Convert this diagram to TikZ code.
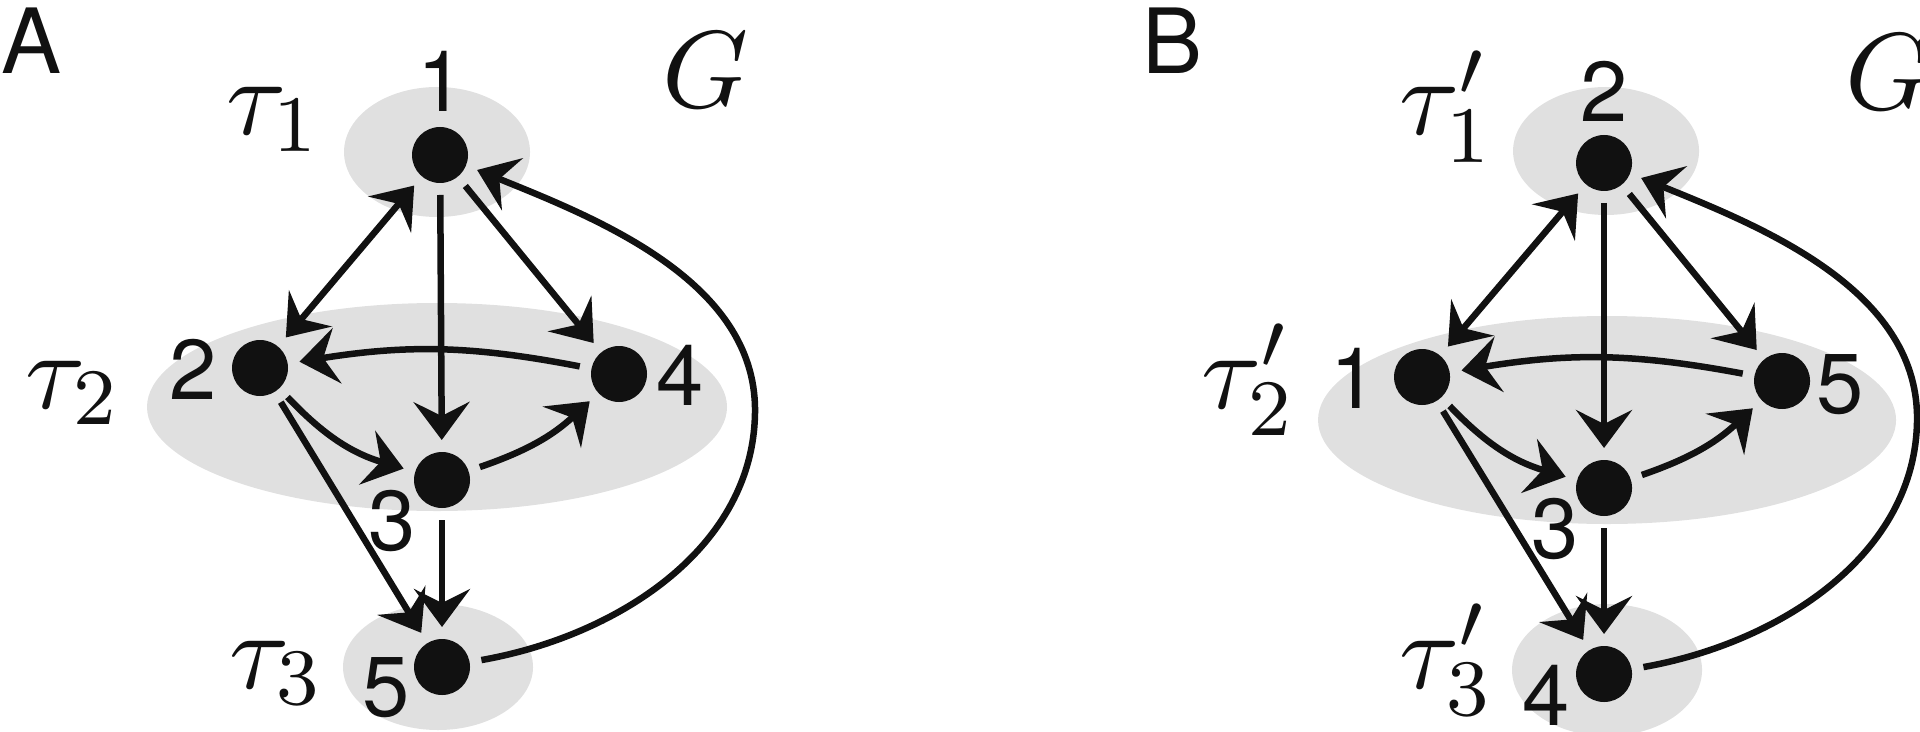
\documentclass[tikz,border=0pt]{standalone}
\usepackage{fontspec}
\newfontfamily\hvfont{TeX Gyre Heros}
\usetikzlibrary{arrows.meta}
\definecolor{grpgray}{RGB}{224,224,224}
\definecolor{ink}{RGB}{17,17,17}
\tikzset{myhead/.tip={Stealth[length=3.8pt,width=5.6pt,inset=1.4pt]}}
\begin{document}
\begin{tikzpicture}[x=0.1pt,y=0.1pt,
  vtx/.style={circle,fill=ink,minimum size=5.6pt,inner sep=0pt,outer sep=1.2pt},
  arr/.style={draw=ink,line width=0.65pt,-myhead},
  darr/.style={draw=ink,line width=0.65pt,myhead-myhead},
  num/.style={font=\hvfont\fontsize{8.5}{10}\selectfont,text=ink,inner sep=0pt,anchor=base},
  grpfill/.style={fill=grpgray},
  taulab/.style={font=\fontsize{11}{13}\selectfont,text=ink,inner sep=0pt,anchor=base west},
  panellab/.style={font=\hvfont\fontsize{9}{11}\selectfont,text=ink,inner sep=0pt,anchor=base west}]
\useasboundingbox (0,0) rectangle (1920,-731);
% ---------- groups (A)
\fill[grpfill] (437,-152) ellipse [x radius=93, y radius=65];
\fill[grpfill] (437,-407) ellipse [x radius=290, y radius=104];
\fill[grpfill] (438,-667) ellipse [x radius=95, y radius=63];
% ---------- groups (B)
\fill[grpfill] (1606,-151) ellipse [x radius=93, y radius=64];
\fill[grpfill] (1607,-420) ellipse [x radius=289, y radius=104];
\fill[grpfill] (1607,-670) ellipse [x radius=95, y radius=66];
% ---------- nodes (A)
\node[vtx] (a1) at (440,-155) {};
\node[vtx] (a2) at (260,-368) {};
\node[vtx] (a3) at (442,-480) {};
\node[vtx] (a4) at (619,-374) {};
\node[vtx] (a5) at (442,-667) {};
\coordinate (ra) at (755,-410);
% ---------- nodes (B)
\node[vtx] (b2) at (1604,-163) {};
\node[vtx] (b1) at (1422,-377) {};
\node[vtx] (b3) at (1604,-488) {};
\node[vtx] (b5) at (1782,-381) {};
\node[vtx] (b4) at (1604,-674) {};
\coordinate (rb) at (1917,-418);
% ---------- edges (A)
\draw[darr] (a1) -- (a2);
\draw[arr] (a1) -- (a3);
\draw[arr] (a1) -- (a4);
\draw[arr] (a4) to[bend right=10] (a2);
\draw[arr] (a2) to[bend right=15] (a3);
\draw[arr] (a3) to[bend right=12] (a4);
\draw[arr] (a2) -- (a5);
\draw[arr] (a3) -- (a5);
\draw[arr] (a5) to[out=10,in=-90,looseness=0.95] (ra) to[out=90,in=-22,looseness=0.9] (a1);
% ---------- edges (B)
\draw[darr] (b2) -- (b1);
\draw[arr] (b2) -- (b3);
\draw[arr] (b2) -- (b5);
\draw[arr] (b5) to[bend right=10] (b1);
\draw[arr] (b1) to[bend right=15] (b3);
\draw[arr] (b3) to[bend right=12] (b5);
\draw[arr] (b1) -- (b4);
\draw[arr] (b3) -- (b4);
\draw[arr] (b4) to[out=10,in=-90,looseness=0.95] (rb) to[out=90,in=-22,looseness=0.9] (b2);
% ---------- labels (A)
\node[num] (la1) at (441,-112) {1};
\node[num] (la2) at (193,-400) {2};
\node[num] (la4) at (680,-405) {4};
\node[num] (la3) at (392,-550) {3};
\node[num] (la5) at (386,-716) {5};
\node[taulab] (ta1) at (224,-135) {$\tau_1$};
\node[taulab] (ta2) at (24,-408) {$\tau_2$};
\node[taulab] (ta3) at (227,-688) {$\tau_3$};
\node[taulab] (ga) at (660,-108) {$G$};
\node[panellab] (pa) at (0,-74) {A};
% ---------- labels (B)
\node[num] (lb2) at (1604,-122) {2};
\node[num] (lb1) at (1354,-408) {1};
\node[num] (lb5) at (1840,-413) {5};
\node[num] (lb3) at (1555,-558) {3};
\node[num] (lb4) at (1546,-725) {4};
\node[taulab] (tb1) at (1397,-135) {$\tau'_1$};
\node[taulab] (tb2) at (1199,-408) {$\tau'_2$};
\node[taulab] (tb3) at (1397,-688) {$\tau'_3$};
\node[taulab] (gb) at (1843,-110) {$G$};
\node[panellab] (pb) at (1140,-74) {B};
\end{tikzpicture}
\end{document}
